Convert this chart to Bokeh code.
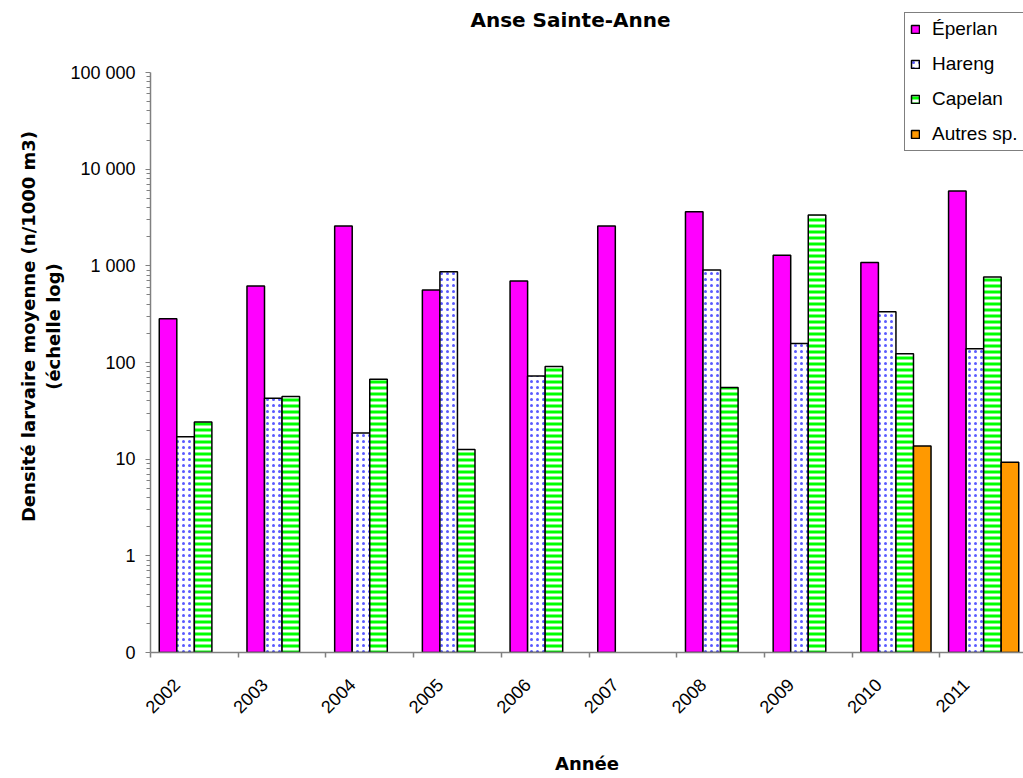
import math
import numpy as np
from bokeh.plotting import figure
from bokeh.models import (ColumnDataSource, FixedTicker, Legend, LegendItem, Label, Range1d)
from bokeh.embed import file_html
from bokeh.resources import INLINE

# ---- data ----
years = ["2002", "2003", "2004", "2005", "2006", "2007", "2008", "2009", "2010", "2011"]
eperlan = [283, 618, 2585, 564, 698, 2585, 3635, 1288, 1080, 5950]
hareng = [17.1, 42.7, 18.6, 871, 72.6, None, 907, 157, 334, 139]
capelan = [24.3, 44.4, 67.2, 12.6, 90.7, None, 55, 3360, 123, 768]
autres = [None, None, None, None, None, None, None, None, 13.7, 9.3]
series_names = ["Éperlan", "Hareng", "Capelan", "Autres sp."]
y_ticks = [0.1, 1, 10, 100, 1000, 10000, 100000]
y_tick_labels = ["0", "1", "10", "100", "1 000", "10 000", "100 000"]
title_text = "Anse Sainte-Anne"
x_title = "Année"
y_title = "Densité larvaire moyenne (n/1000 m3)\n(échelle log)"

# ---- layout ----
W, H = 1023, 778
FL, FB = 150, 652                   # frame left / bottom on canvas
AX_TOP = 72                         # pixel row of the top of the value axis
CAT_PX = 87.7                       # pixels per category
x_end = -0.5 + (W - FL) / CAT_PX
px_per_decade = (FB - AX_TOP) / 6.0
y_end = 10 ** (5 + AX_TOP / px_per_decade)   # frame reaches the top of the canvas
FONT = "Liberation Sans"
BFONT = "DejaVu Sans"

p = figure(width=W, height=H, output_backend="svg", toolbar_location=None,
           y_axis_type="log", x_range=Range1d(-0.5, x_end), y_range=Range1d(0.1, y_end),
           min_border_left=FL, min_border_right=0, min_border_top=0,
           min_border_bottom=H - FB)
p.outline_line_color = None
p.grid.grid_line_color = None
p.background_fill_color = "white"
p.border_fill_color = "white"

idx = np.arange(len(years), dtype=float)
bar_w = 0.2
offsets = [-0.3, -0.1, 0.1, 0.3]

def arr(v):
    return np.array([np.nan if a is None else a for a in v], dtype=float)

values = [eperlan, hareng, capelan, autres]
styles = [
    dict(fill_color="#ff00ff"),
    dict(fill_color="white", hatch_pattern="dot", hatch_color="#5a5aff",
         hatch_scale=6, hatch_weight=1),
    dict(fill_color="white", hatch_pattern="horizontal_line", hatch_color="#00ff00",
         hatch_scale=6, hatch_weight=3),
    dict(fill_color="#ff9900"),
]
renderers = []
for name, vals, off, st in zip(series_names, values, offsets, styles):
    src = ColumnDataSource(dict(x=idx + off, top=arr(vals), year=years))
    r = p.vbar(x="x", width=bar_w, top="top", bottom=0.1, source=src,
               line_color="black", line_width=1.5, **st)
    renderers.append(r)

# ---- x axis ----
label_pos = [float(i) - 0.2 for i in idx]
xa = p.xaxis[0]
xa.ticker = FixedTicker(ticks=label_pos, minor_ticks=list(np.arange(len(years) + 1) - 0.5))
xa.major_label_overrides = {t: y for t, y in zip(label_pos, years)}
xa.major_label_orientation = math.pi / 4
xa.major_tick_line_color = None
xa.major_tick_out = 5
xa.major_tick_in = 0
xa.minor_tick_out = 5
xa.minor_tick_in = 0
xa.minor_tick_line_color = "#808080"
xa.minor_tick_line_width = 1.5
xa.axis_line_color = "#808080"
xa.axis_line_width = 1.5
xa.major_label_text_font = FONT
xa.major_label_text_font_size = "18px"
xa.major_label_text_color = "black"
xa.major_label_standoff = 24
xa.axis_label = x_title
xa.axis_label_text_font = BFONT
xa.axis_label_text_font_style = "bold"
xa.axis_label_text_font_size = "18px"
xa.axis_label_text_color = "black"
xa.axis_label_standoff = 31

# ---- y axis ----
ya = p.yaxis[0]
ya.bounds = (y_ticks[0], y_ticks[-1])
ya.ticker = FixedTicker(ticks=y_ticks,
                        minor_ticks=[d * k for d in y_ticks[:-1] for k in range(2, 10)])
ya.major_label_overrides = {t: l for t, l in zip(y_ticks, y_tick_labels)}
ya.major_tick_out = 5
ya.major_tick_in = 0
ya.minor_tick_out = 4
ya.minor_tick_in = 0
ya.major_tick_line_color = "#808080"
ya.minor_tick_line_color = "#808080"
ya.axis_line_color = "#808080"
ya.axis_line_width = 1.5
ya.major_label_text_font = FONT
ya.major_label_text_font_size = "18px"
ya.major_label_text_color = "black"
ya.major_label_standoff = 10
ya.axis_label = y_title
ya.axis_label_text_font = BFONT
ya.axis_label_text_font_style = "bold"
ya.axis_label_text_font_size = "18px"
ya.axis_label_text_color = "black"
ya.axis_label_text_line_height = 1.2
ya.axis_label_standoff = 3

# ---- title ----
p.add_layout(Label(x=570 - FL, y=FB - 19, x_units="screen", y_units="screen",
                   text=title_text, text_font=BFONT, text_font_style="bold",
                   text_color="black",
                   text_font_size="20px", text_align="center", text_baseline="middle"))

# ---- legend ----
legend = Legend(items=[LegendItem(label=n, renderers=[r]) for n, r in zip(series_names, renderers)],
                location=(904 - FL, FB - 151), orientation="vertical",
                label_text_font=FONT, label_text_font_size="19px", label_text_color="black",
                label_height=22, label_width=100, glyph_width=10, glyph_height=10, spacing=13,
                padding=5, margin=0, label_standoff=12,
                border_line_color="black", border_line_width=1,
                background_fill_color="white", background_fill_alpha=1)
p.add_layout(legend, "center")

open("out.html", "w").write(file_html(p, INLINE))
